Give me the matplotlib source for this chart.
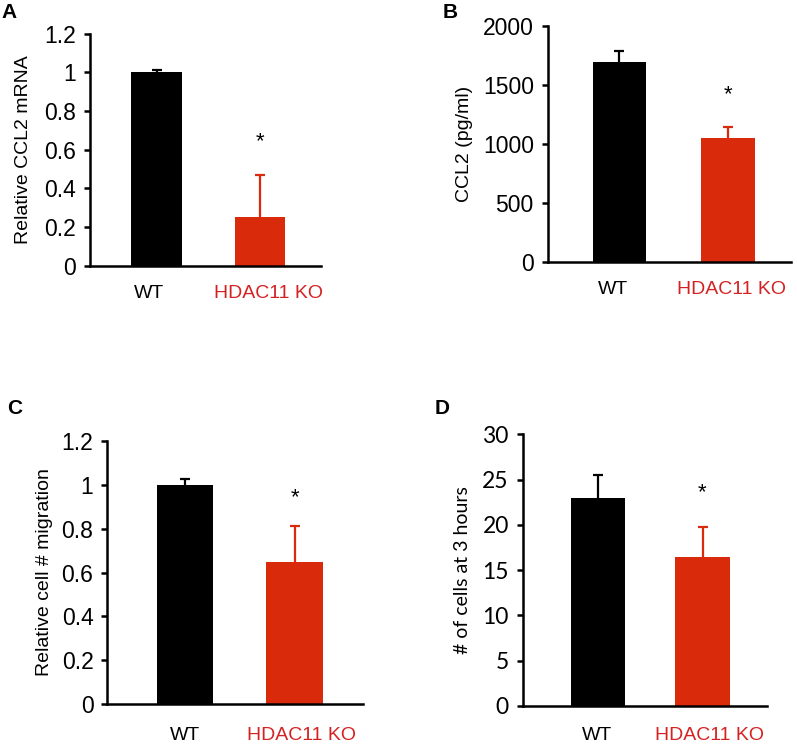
import matplotlib
matplotlib.use("Agg")
import matplotlib.pyplot as plt

categories = ["WT", "HDAC11 KO"]

a_values = [1.0, 0.25]
a_errors = [0.01, 0.22]
a_ticks = [0, 0.2, 0.4, 0.6, 0.8, 1, 1.2]
a_ticklabels = ["0", "0.2", "0.4", "0.6", "0.8", "1", "1.2"]

b_values = [1697, 1047]
b_errors = [93, 99]
b_ticks = [0, 500, 1000, 1500, 2000]

c_values = [1.0, 0.648]
c_errors = [0.027, 0.164]
c_ticks = [0, 0.2, 0.4, 0.6, 0.8, 1, 1.2]
c_ticklabels = ["0", "0.2", "0.4", "0.6", "0.8", "1", "1.2"]

d_values = [23.0, 16.5]
d_errors = [2.5, 3.3]
d_ticks = [0, 5, 10, 15, 20, 25, 30]

RED = "#DA2A0C"
RED_TXT = "#D42222"
colors = ["black", RED]

plt.rcParams["font.family"] = ["Liberation Sans", "DejaVu Sans"]

W, H = 797, 744
fig = plt.figure(figsize=(W / 100, H / 100), dpi=100)


def make_ax(left, right, top, bottom):
    return fig.add_axes([left / W, 1 - bottom / H, (right - left) / W, (bottom - top) / H])


def panel(ax, values, errors, ticks, ticklabels, ymax, ylabel, xlim, width,
          star_y, label_x, label_ypix, font, tick_fs, ylabel_pad):
    x = [0, 1]
    ax.bar(x, values, width=width, color=colors, zorder=2)
    for xi, v, e, c in zip(x, values, errors, colors):
        eb = ax.errorbar([xi], [v], yerr=[[0], [e]], fmt="none", ecolor=c,
                         elinewidth=1.6, capsize=3.8, capthick=1.6, zorder=3)
        caps = eb.lines[1]
        if len(caps) >= 2:
            caps[0].set_visible(False)
    ax.set_xlim(*xlim)
    ax.set_ylim(0, ymax)
    ax.set_yticks(ticks)
    ax.set_yticklabels(ticklabels, fontsize=tick_fs, family=font)
    ax.set_xticks([])
    for s in ["top", "right"]:
        ax.spines[s].set_visible(False)
    for s in ["left", "bottom"]:
        ax.spines[s].set_linewidth(1.8)
    ax.tick_params(axis="y", length=4, width=1.8, pad=6)
    ax.set_ylabel(ylabel, fontsize=14, family=font, labelpad=ylabel_pad)
    ax.text(1, star_y, "*", ha="center", va="center", fontsize=16)
    for lx, lab, col in zip(label_x, categories, ["black", RED_TXT]):
        ax.annotate(lab, xy=(lx, 1 - label_ypix / H), xycoords=("data", "figure fraction"),
                    color=col, fontsize=14, ha="center", va="center",
                    annotation_clip=False)
    return ax


# Panel A
axA = make_ax(90, 321, 33.5, 265.7)
panel(axA, a_values, a_errors, a_ticks, a_ticklabels, 1.2, "Relative CCL2 mRNA",
      (-0.646, 1.59), 0.49, 0.64, [-0.075, 1.078], 293, "Liberation Sans", 16.5, 9)
# Panel B
axB = make_ax(547.7, 790.7, 26, 261.7)
panel(axB, b_values, b_errors, b_ticks, [str(t) for t in b_ticks], 2000, "CCL2 (pg/ml)",
      (-0.659, 1.577), 0.49, 1414, [-0.06, 1.03], 290, "Liberation Sans", 16.5, 7)
# Panel C
axC = make_ax(107.3, 362.7, 441, 704)
panel(axC, c_values, c_errors, c_ticks, c_ticklabels, 1.2, "Relative cell # migration",
      (-0.708, 1.62), 0.515, 0.94, [0.0, 1.06], 735, "Liberation Sans", 16.5, 6)
# Panel D
axD = make_ax(522.7, 767.3, 434.3, 706)
panel(axD, d_values, d_errors, d_ticks, [str(t) for t in d_ticks], 30, "# of cells at 3 hours",
      (-0.726, 1.622), 0.52, 23.5, [-0.01, 1.07], 735, "Lato", 16.5, 8)

# Panel letters
for lab, xp, yp in [("A", 9, 13), ("B", 450, 12), ("C", 15, 409), ("D", 442, 409)]:
    fig.text(xp / W, 1 - yp / H, lab, fontsize=15, fontweight="bold",
             ha="center", va="center")

fig.savefig("out.png", dpi=100)
